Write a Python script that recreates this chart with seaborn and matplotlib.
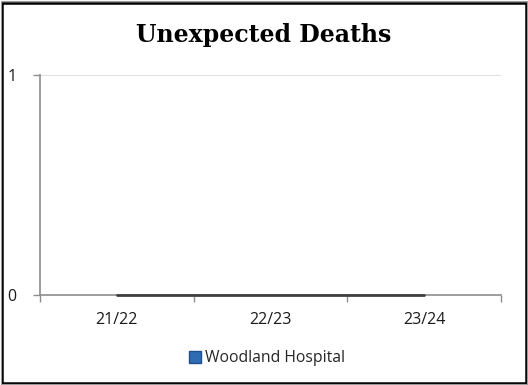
import matplotlib
matplotlib.use("Agg")
import matplotlib.pyplot as plt
import seaborn as sns
import pandas as pd
from matplotlib.patches import Rectangle
from matplotlib.lines import Line2D

# Chart data
periods = ["21/22", "22/23", "23/24"]
deaths = [0, 0, 0]
series_name = "Woodland Hospital"
title = "Unexpected Deaths"

df = pd.DataFrame({"Period": periods, "Deaths": deaths})

sns.set_theme(style="white")
plt.rcParams["font.family"] = ["Open Sans", "DejaVu Sans"]

fig = plt.figure(figsize=(5.28, 3.85), dpi=100)
ax = fig.add_axes([40 / 528, 1 - 295 / 385, (501 - 40) / 528, (295 - 75) / 385])

sns.lineplot(data=df, x="Period", y="Deaths", ax=ax, color="#404040",
             linewidth=2.0, sort=False, legend=False, zorder=5)
for ln in ax.lines:
    ln.set_clip_on(False)

ax.set_xlim(-0.5, len(periods) - 0.5)
ax.set_ylim(0, 1)
ax.set_yticks([0, 1])
ax.set_yticklabels(["0", "1"])
ax.set_xticks(range(len(periods)))
ax.set_xticklabels(periods)
ax.set_xlabel("")
ax.set_ylabel("")

# Gridline at the top value
ax.axhline(1, color="#d9d9d9", linewidth=1.2, zorder=0)

for side in ["top", "right"]:
    ax.spines[side].set_visible(False)
for side in ["left", "bottom"]:
    ax.spines[side].set_color("#8c8c8c")
    ax.spines[side].set_linewidth(1.2)

ax.tick_params(axis="y", which="major", length=5, width=1, color="#8c8c8c",
               labelsize=11.5, pad=12, labelcolor="#1a1a1a", left=True)
ax.tick_params(axis="x", which="major", length=0, labelsize=11.5, pad=12,
               labelcolor="#1a1a1a")
# Category boundary ticks below the baseline
ax.set_xticks([i - 0.5 for i in range(len(periods) + 1)], minor=True)
ax.tick_params(axis="x", which="minor", length=5, width=1, color="#8c8c8c",
               bottom=True, direction="out")

fig.text(0.5, 1 - 35 / 385, title, ha="center", va="center",
         fontsize=17, fontweight="bold", family=["DejaVu Serif"], color="#000000")

handle = Line2D([0], [0], marker="s", linestyle="none", markersize=8,
                markerfacecolor="#2e6db4", markeredgecolor="#1f4e8a")
fig.legend([handle], [series_name], loc="center", bbox_to_anchor=(265 / 528, 1 - 358 / 385),
           frameon=False, fontsize=11.3, handletextpad=0.05, handlelength=1.2,
           borderaxespad=0)

# Outer frame
fig.patches.append(Rectangle((1.5 / 528, 2.5 / 385), 524 / 528, 379.5 / 385,
                             transform=fig.transFigure, fill=False,
                             edgecolor="#000000", linewidth=1.8))
fig.patches.append(Rectangle((0.5 / 528, 0.8 / 385), 526.5 / 528, 383 / 385,
                             transform=fig.transFigure, fill=False,
                             edgecolor="#9a9a9a", linewidth=0.8))

fig.savefig("out.png", dpi=100)
